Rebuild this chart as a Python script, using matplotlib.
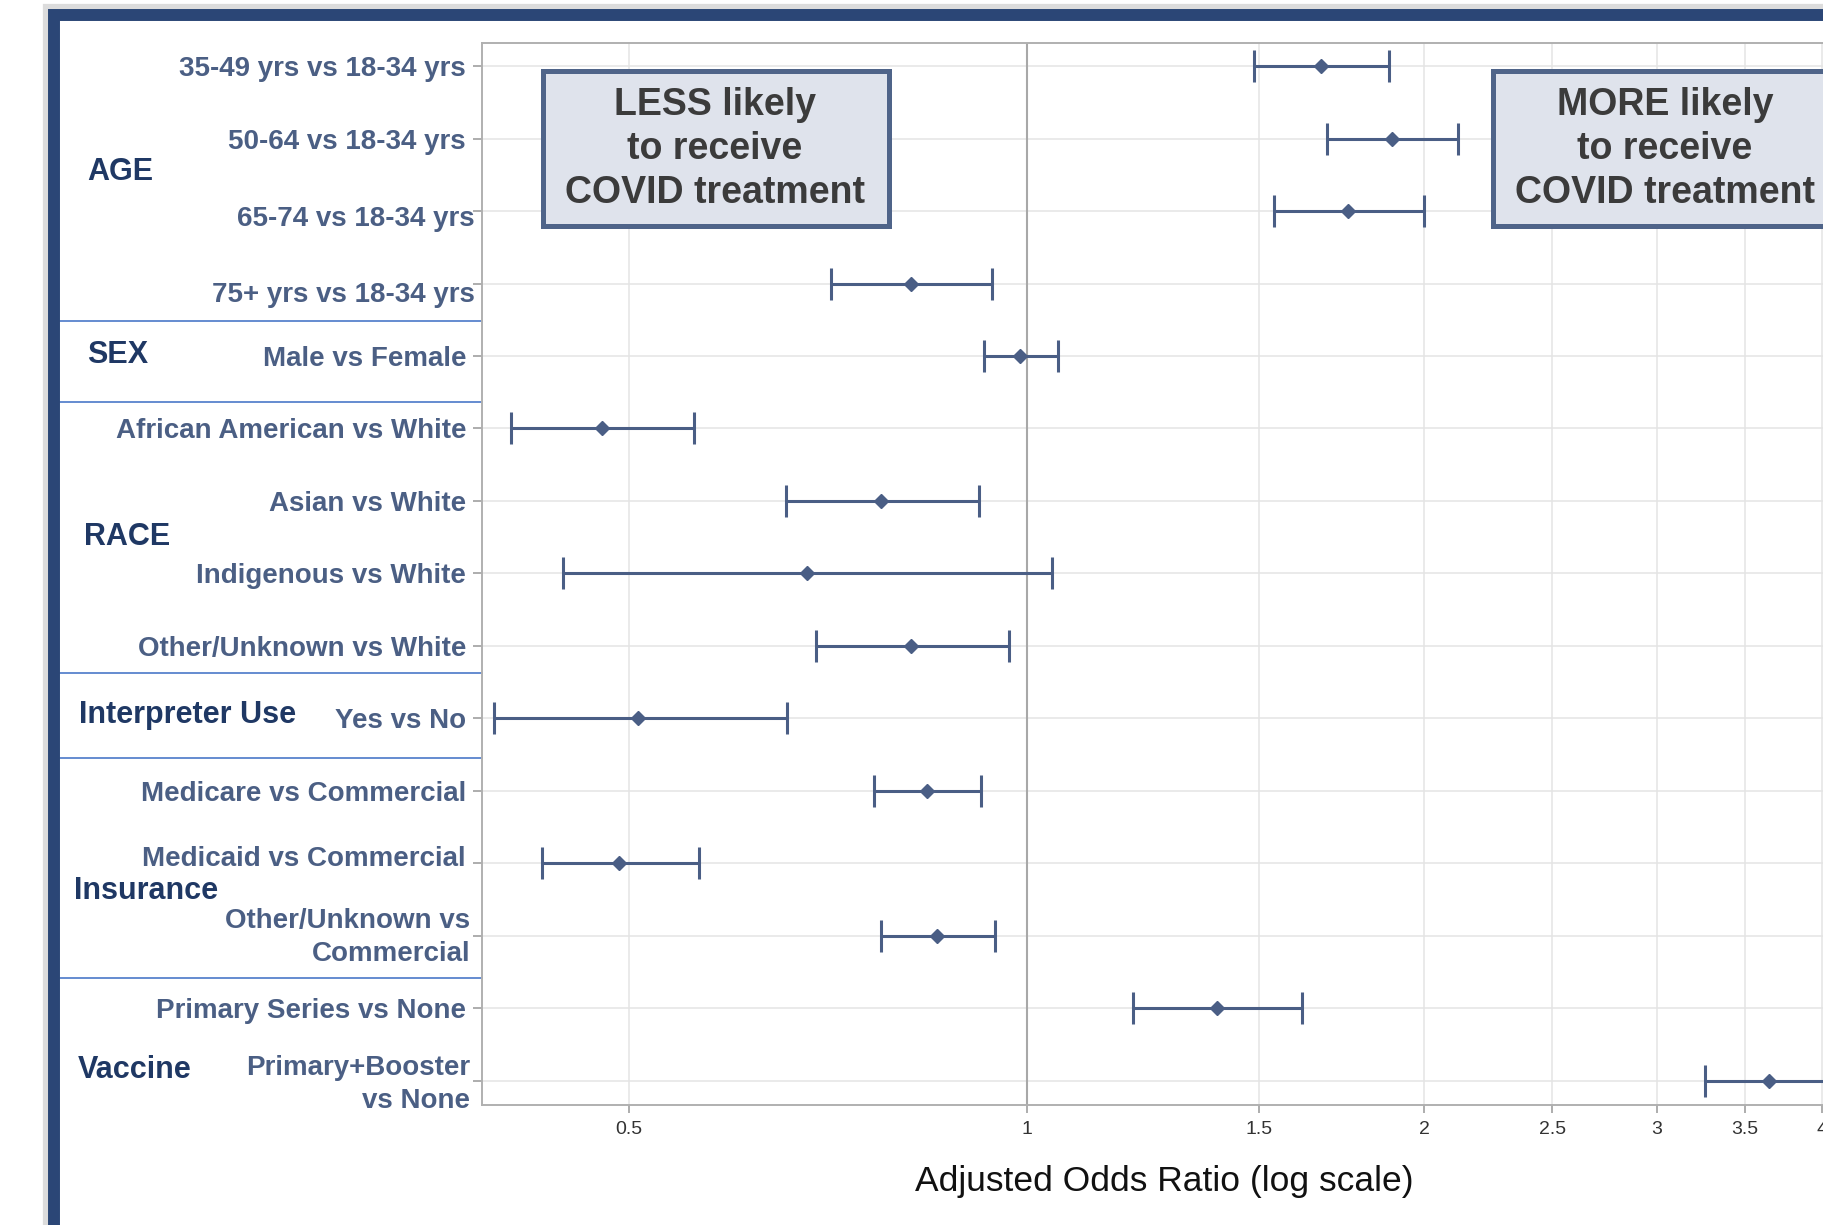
import numpy as np
import matplotlib
matplotlib.use('Agg')
import matplotlib.pyplot as plt
from matplotlib.patches import Rectangle
from matplotlib.lines import Line2D
from matplotlib.ticker import NullLocator
from matplotlib.transforms import ScaledTranslation

plt.rcParams['font.family'] = ['Liberation Sans', 'DejaVu Sans']

# adjusted odds ratios
comparisons = ['35-49 yrs vs 18-34 yrs', '50-64 vs 18-34 yrs', '65-74 vs 18-34 yrs',
               '75+ yrs vs 18-34 yrs', 'Male vs Female', 'African American vs White',
               'Asian vs White', 'Indigenous vs White', 'Other/Unknown vs White',
               'Yes vs No', 'Medicare vs Commercial', 'Medicaid vs Commercial',
               'Other/Unknown vs\nCommercial', 'Primary Series vs None',
               'Primary+Booster\nvs None']
aor      = [1.670, 1.890, 1.750, 0.817, 0.988, 0.477, 0.776, 0.682, 0.818, 0.508, 0.840, 0.491, 0.855, 1.394, 3.651]
ci_low   = [1.488, 1.690, 1.540, 0.711, 0.928, 0.407, 0.657, 0.446, 0.693, 0.395, 0.767, 0.430, 0.776, 1.205, 3.262]
ci_high  = [1.882, 2.122, 2.000, 0.941, 1.056, 0.560, 0.920, 1.046, 0.970, 0.659, 0.924, 0.565, 0.947, 1.617, 4.200]

groups      = ['AGE', 'SEX', 'RACE', 'Interpreter Use', 'Insurance', 'Vaccine']
group_mid   = [1.46, 3.98, 6.50, 8.95, 11.39, 13.86]
group_breaks = [3.51, 4.64, 8.38, 9.55, 12.59]

xticks = [0.5, 1, 1.5, 2, 2.5, 3, 3.5, 4]
xticklabels = ['0.5', '1', '1.5', '2', '2.5', '3', '3.5', '4']

W, H = 1823, 1225
fig = plt.figure(figsize=(W / 100, H / 100), dpi=100)

def fx(x):
    return x / W

def fy(y):
    return 1 - y / H

# frame around the slide (with a faint shadow)
fig.add_artist(Rectangle((fx(50), fy(1400)), fx(2000), fy(11) - fy(1400), transform=fig.transFigure,
                         fill=False, edgecolor='#dcdcdc', linewidth=11, zorder=0))
fig.add_artist(Rectangle((fx(54), fy(1400)), fx(2000), fy(15) - fy(1400), transform=fig.transFigure,
                         fill=False, edgecolor='#2b4676', linewidth=8.6, zorder=1))

ax_l, ax_r, ax_t, ax_b = 482, 1877, 43, 1104.5
ax = fig.add_axes([fx(ax_l), fy(ax_b), fx(ax_r - ax_l), (ax_b - ax_t) / H])

y = np.arange(len(comparisons))
aor = np.array(aor)
lo = aor - np.array(ci_low)
hi = np.array(ci_high) - aor

err_col = '#4a5e85'
ax.errorbar(aor, y, xerr=[lo, hi], fmt='D', color=err_col, ms=7, capsize=11.5,
            capthick=2.2, elinewidth=2.2, zorder=5, clip_on=False)

ax.set_xscale('log')
ax.set_xlim(0.387, 4.405)
ax.set_ylim(14.33, -0.32)
ax.xaxis.set_minor_locator(NullLocator())
ax.set_xticks(xticks)
ax.set_xticklabels(xticklabels, fontsize=14, color='#333333')
ax.set_yticks(y)
ax.set_yticklabels(comparisons, fontsize=20, fontweight='bold', color='#4b5f84', linespacing=1.35)

ax.tick_params(axis='y', length=6.5, width=1.2, color='#a0a0a0', pad=5)
ax.tick_params(axis='x', length=6, width=1.2, color='#a0a0a0', pad=6)

# small nudges of a few labels, as placed in the original slide (px: right, down)
nudges = {2: (9, 5), 3: (9, 8), 11: (0, -7), 12: (4, -5), 14: (4, -3)}
for i, lab in enumerate(ax.get_yticklabels()):
    if i in nudges:
        dx, dy = nudges[i]
        lab.set_transform(lab.get_transform() + ScaledTranslation(dx / 100, -dy / 100, fig.dpi_scale_trans))

for xv in xticks:
    ax.axvline(xv, color='#e4e4e4', lw=1.1, zorder=0)
for yv in y:
    ax.axhline(yv, color='#e4e4e4', lw=1.1, zorder=0)
ax.axvline(1, color='#a8a8a8', lw=1.5, zorder=1)

for side in ['top', 'left', 'bottom']:
    ax.spines[side].set_color('#b0b0b0')
    ax.spines[side].set_linewidth(1.4)
ax.spines['right'].set_visible(False)

ax.set_xlabel('Adjusted Odds Ratio (log scale)', fontsize=25.5, color='#111111')
ax.xaxis.set_label_coords((1164 - ax_l) / (ax_r - ax_l), (ax_b - 1182) / (ax_b - ax_t))
ax.xaxis.label.set_va('center')

# group labels and separators on the left
ytr = ax.get_yaxis_transform()
x_sep0 = (60 - ax_l) / (ax_r - ax_l)
for yb in group_breaks:
    ax.add_line(Line2D([x_sep0, 0], [yb, yb], transform=ytr, color='#4a78c8', lw=1.2, clip_on=False))

grp_x = [87, 87, 84, 79, 74, 78]
for g, ym, gx in zip(groups, group_mid, grp_x):
    ax.text((gx - ax_l) / (ax_r - ax_l), ym, g, transform=ytr, ha='left', va='center',
            fontsize=22, fontweight='bold', color='#1f3864')

# LESS / MORE likely boxes
box_txt = ['LESS likely\nto receive\nCOVID treatment', 'MORE likely\nto receive\nCOVID treatment']
box_left = [540, 1490]
for t, bx in zip(box_txt, box_left):
    fig.add_artist(Rectangle((fx(bx + 2.5), fy(226)), fx(346), fy(71) - fy(226), transform=fig.transFigure,
                             facecolor='#dfe3ec', edgecolor='#4f6489', linewidth=3.6, zorder=6))
    fig.text(fx(bx + 175), fy(149), t, ha='center', va='center', fontsize=27, fontweight='bold',
             color='#3b3b3b', linespacing=1.3, zorder=7)

fig.savefig('out.png', dpi=100)
